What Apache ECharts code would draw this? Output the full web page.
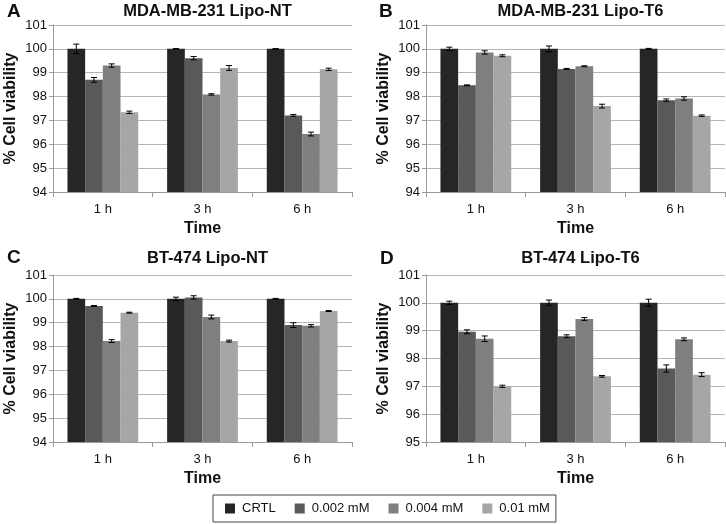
<!DOCTYPE html>
<html>
<head>
<meta charset="utf-8">
<script src="https://cdn.jsdelivr.net/npm/echarts@6/dist/echarts.min.js"></script>
<style>
html,body{margin:0;padding:0;background:#fff;}
#chart{width:726px;height:524px;}
</style>
</head>
<body>
<div id="chart"></div>
<script>
const categories = ['1 h', '3 h', '6 h'];
const seriesNames = ['CRTL', '0.002 mM', '0.004 mM', '0.01 mM'];
const panelLetters = ['A', 'B', 'C', 'D'];
const panelTitles = ['MDA-MB-231 Lipo-NT', 'MDA-MB-231 Lipo-T6', 'BT-474 Lipo-NT', 'BT-474 Lipo-T6'];
const yMins = [94, 94, 94, 95];
const yMaxs = [101, 101, 101, 101];

// values: per series, across categories
const valuesA = [[100, 100, 100], [98.70, 99.61, 97.21], [99.30, 98.09, 96.43], [97.34, 99.20, 99.14]];
const errorsA = [[0.20, 0.01, 0.01], [0.10, 0.07, 0.04], [0.07, 0.03, 0.08], [0.05, 0.10, 0.05]];
const valuesB = [[100, 100, 100], [98.47, 99.16, 97.85], [99.85, 99.27, 97.92], [99.71, 97.60, 97.20]];
const errorsB = [[0.07, 0.12, 0.02], [0.02, 0.02, 0.05], [0.07, 0.02, 0.07], [0.04, 0.08, 0.03]];
const valuesC = [[100, 100, 100], [99.70, 100.06, 98.90], [98.23, 99.24, 98.87], [99.42, 98.23, 99.49]];
const errorsC = [[0.02, 0.07, 0.02], [0.02, 0.07, 0.10], [0.06, 0.08, 0.05], [0.02, 0.04, 0.02]];
const valuesD = [[100, 100, 100], [98.96, 98.80, 97.64], [98.71, 99.42, 98.69], [97.00, 97.36, 97.42]];
const errorsD = [[0.06, 0.10, 0.13], [0.07, 0.05, 0.13], [0.10, 0.05, 0.05], [0.04, 0.03, 0.07]];

const allValues = [valuesA, valuesB, valuesC, valuesD];
const allErrors = [errorsA, errorsB, errorsC, errorsD];

const colors = ['#262626', '#595959', '#7f7f7f', '#a6a6a6'];
const gridPos = [
  {left: 53, top: 25, width: 299, height: 167},
  {left: 426, top: 25, width: 299, height: 167},
  {left: 53, top: 275, width: 299, height: 167},
  {left: 426, top: 275, width: 299, height: 167}
];
const letterPos = [[2, -3], [374, -3], [2, 243], [375, 244]];
const FONT = 'Liberation Sans, Arial, sans-serif';
const catGap = 0.29;

const option = {
  animation: false,
  backgroundColor: '#fff',
  textStyle: {fontFamily: FONT},
  title: [],
  grid: [],
  xAxis: [],
  yAxis: [],
  legend: {
    left: 213, top: 495,
    data: seriesNames,
    icon: 'rect', itemWidth: 10, itemHeight: 10, itemGap: 19,
    padding: [7, 6, 7, 12],
    borderColor: '#444', borderWidth: 1,
    textStyle: {fontFamily: FONT, fontSize: 13, color: '#111', padding: [0, 0, 0, 2]}
  },
  series: []
};

for (let p = 0; p < 4; p++) {
  const g = gridPos[p];
  option.grid.push(Object.assign({containLabel: false}, g));
  option.title.push({
    text: panelTitles[p],
    left: g.left + g.width / 2, top: p < 2 ? -2 : 245,
    textAlign: 'center',
    textStyle: {fontFamily: FONT, fontSize: 16.5, fontWeight: 'bold', color: '#111'}
  });
  option.title.push({
    text: panelLetters[p],
    left: letterPos[p][0], top: letterPos[p][1],
    textStyle: {fontFamily: FONT, fontSize: 19, fontWeight: 'bold', color: '#111'}
  });
  option.xAxis.push({
    type: 'category', gridIndex: p, data: categories,
    name: 'Time', nameLocation: 'middle', nameGap: 29,
    nameTextStyle: {fontFamily: FONT, fontSize: 16, fontWeight: 'bold', color: '#111'},
    axisLine: {lineStyle: {color: '#999', width: 1}},
    axisTick: {show: true, length: 5, lineStyle: {color: '#999'}},
    axisLabel: {fontFamily: FONT, fontSize: 13, color: '#111', margin: 11},
    splitLine: {show: false}
  });
  option.yAxis.push({
    type: 'value', gridIndex: p, min: yMins[p], max: yMaxs[p], interval: 1,
    name: '% Cell viability', nameLocation: 'middle', nameGap: 34,
    nameTextStyle: {fontFamily: FONT, fontSize: 16, fontWeight: 'bold', color: '#111'},
    axisLine: {show: true, lineStyle: {color: '#999', width: 1}},
    axisTick: {show: true, length: 4, lineStyle: {color: '#999'}},
    axisLabel: {fontFamily: FONT, fontSize: 13, color: '#111', margin: 6},
    splitLine: {show: true, lineStyle: {color: '#b5b5b5', width: 1}}
  });
  const vals = allValues[p], errs = allErrors[p];
  for (let s = 0; s < 4; s++) {
    option.series.push({
      type: 'bar', name: seriesNames[s],
      xAxisIndex: p, yAxisIndex: p,
      data: vals[s],
      barGap: '0%', barCategoryGap: (catGap * 100) + '%',
      itemStyle: {color: colors[s]},
      z: 2
    });
  }
  const errData = [];
  for (let s = 0; s < 4; s++) {
    for (let c = 0; c < categories.length; c++) {
      errData.push([c, vals[s][c], errs[s][c], s]);
    }
  }
  option.series.push({
    type: 'custom', xAxisIndex: p, yAxisIndex: p, z: 5,
    data: errData,
    renderItem: function (params, api) {
      const c = api.value(0), v = api.value(1), e = api.value(2), s = api.value(3);
      const band = api.size([1, 0])[0];
      const bw = band * (1 - catGap) / 4;
      const center = api.coord([c, v]);
      const x = center[0] + (s - 1.5) * bw;
      const yTop = api.coord([c, v + e])[1];
      const yBot = api.coord([c, v - e])[1];
      const cap = 3;
      const st = {stroke: '#000', lineWidth: 1, fill: null};
      return {
        type: 'group',
        children: [
          {type: 'line', shape: {x1: x, y1: yTop, x2: x, y2: yBot}, style: st},
          {type: 'line', shape: {x1: x - cap, y1: yTop, x2: x + cap, y2: yTop}, style: st},
          {type: 'line', shape: {x1: x - cap, y1: yBot, x2: x + cap, y2: yBot}, style: st}
        ]
      };
    }
  });
}

const chart = echarts.init(document.getElementById('chart'), null, {renderer: 'canvas'});
chart.setOption(option);
</script>
</body>
</html>
